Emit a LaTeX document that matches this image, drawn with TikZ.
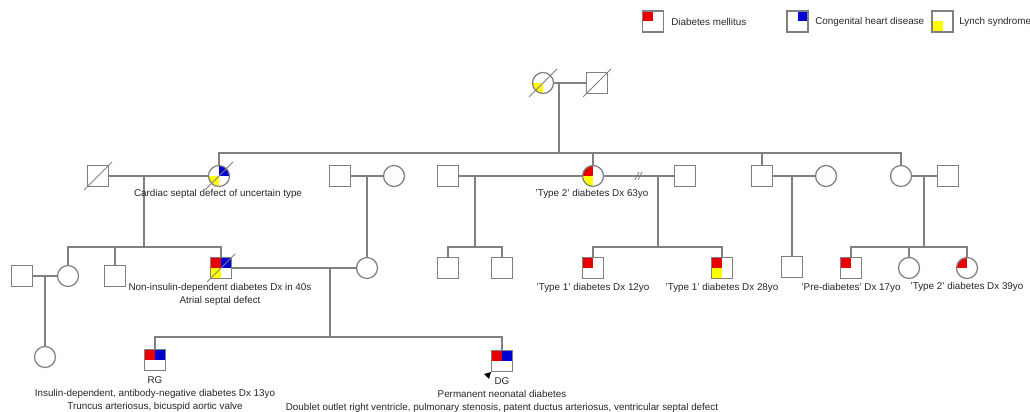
\documentclass[tikz,border=0pt]{standalone}
\usepackage{fontspec}
\setmainfont{Liberation Sans}
\usetikzlibrary{positioning}
\definecolor{lngray}{RGB}{128,128,128}
\definecolor{dmred}{RGB}{232,0,0}
\definecolor{chdblue}{RGB}{0,0,210}
\definecolor{lsyellow}{RGB}{255,255,0}
\tikzset{
  ln/.style={draw=lngray, line width=0.9pt},
  sl/.style={draw=lngray, line width=0.6pt},
  male/.style={rectangle, ln, fill=white, minimum size=0.525cm, inner sep=0pt, outer sep=0pt},
  female/.style={circle, ln, fill=white, minimum size=0.525cm, inner sep=0pt, outer sep=0pt},
  qd/.style n args={4}{path picture={
      \fill[#1] (path picture bounding box.center) rectangle ([xshift=0.5pt,yshift=-0.5pt]path picture bounding box.north west);
      \fill[#2] (path picture bounding box.center) rectangle ([xshift=-0.5pt,yshift=-0.5pt]path picture bounding box.north east);
      \fill[#3] (path picture bounding box.center) rectangle ([xshift=0.5pt,yshift=0.5pt]path picture bounding box.south west);
      \fill[#4] (path picture bounding box.center) rectangle ([xshift=-0.5pt,yshift=0.5pt]path picture bounding box.south east);
  }},
  lbl/.style={font=\fontsize{7}{9.4}\selectfont, text=black!85, align=center, inner sep=0pt},
}
\newcommand{\dcsd}[1]{\draw[sl] (#1.center) ++(-14,14) -- ++(28,-28);}

\begin{document}
\begin{tikzpicture}[x=0.025cm, y=-0.025cm]
\useasboundingbox (0,0) rectangle (1030,412);
% legend
\node[male, qd={dmred}{white}{white}{white}] (lg1) at (653,21.5) {};
\node[lbl, anchor=west] (lt1) at (671,21.5) {Diabetes mellitus};
\node[male, qd={white}{chdblue}{white}{white}] (lg2) at (797.5,21.5) {};
\node[lbl, anchor=west] (lt2) at (815,21.5) {Congenital heart disease};
\node[male, qd={white}{white}{lsyellow}{white}] (lg3) at (942.5,21.5) {};
\node[lbl, anchor=west] (lt3) at (959,21.5) {Lynch syndrome};

% generation I
\node[female, qd={white}{white}{lsyellow}{white}] (t1f) at (543,83) {};
\node[male] (t1m) at (597,83) {};
\dcsd{t1f}
\dcsd{t1m}

% generation II
\node[male] (a1) at (98,176) {};
\node[female, qd={white}{chdblue}{lsyellow}{white}] (a2) at (219,176) {};
\dcsd{a1}
\dcsd{a2}
\node[male] (b1) at (340,176) {};
\node[female] (b2) at (394,176) {};
\node[male] (c0) at (448,176) {};
\node[female, qd={dmred}{white}{lsyellow}{white}] (c1) at (593,176) {};
\node[male] (c2) at (685,176) {};
\node[male] (d1) at (762,176) {};
\node[female] (d2) at (826,176) {};
\node[female] (e1) at (901,176) {};
\node[male] (e2) at (948,176) {};

% generation III
\node[male] (f1) at (22,276) {};
\node[female] (f2) at (68,276) {};
\node[male] (f4) at (115,276) {};
\node[male, qd={dmred}{chdblue}{lsyellow}{white}] (f5) at (221,268) {};
\dcsd{f5}
\node[female] (f6) at (367,268) {};
\node[male] (h1) at (448,268) {};
\node[male] (h2) at (502,268) {};
\node[male, qd={dmred}{white}{white}{white}] (i1) at (593,268) {};
\node[male, qd={dmred}{white}{lsyellow}{white}] (i2) at (722,268) {};
\node[male] (j1) at (792,267) {};
\node[male, qd={dmred}{white}{white}{white}] (k1) at (851,268) {};
\node[female] (k2) at (909,268) {};
\node[female, qd={dmred}{white}{white}{white}] (k3) at (967,268) {};

% generation IV
\node[female] (f3) at (45,357) {};
\node[male, qd={dmred}{chdblue}{white}{white}] (g1) at (155,360) {};
\node[male, qd={dmred}{chdblue}{white}{white}] (g2) at (502,361) {};
\fill[black] (491,372) -- (484,374) -- (489,379) -- cycle;

% couples and descent
\coordinate (m0) at (559,83);
\coordinate (s0) at (559,153);
\draw[ln] (t1f) -- (t1m);
\draw[ln] (m0) -- (s0);
\draw[ln] (a2.north) |- (s0) -| (e1.north);
\draw[ln] (c1.north) -- (c1.north |- s0);
\draw[ln] (d1.north) -- (d1.north |- s0);

\coordinate (m1) at (144,176);
\coordinate (s1) at (144,247);
\draw[ln] (a1) -- (a2);
\draw[ln] (m1) -- (s1);
\draw[ln] (f2.north) |- (s1) -| (f5.north);
\draw[ln] (f4.north) -- (f4.north |- s1);

\coordinate (m2) at (45,276);
\draw[ln] (f1) -- (f2);
\draw[ln] (m2) -- (f3.north);

\coordinate (m3) at (367,176);
\draw[ln] (b1) -- (b2);
\draw[ln] (m3) -- (f6.north);

\coordinate (m4) at (330,268);
\coordinate (s4) at (330,337);
\draw[ln] (f5) -- (f6);
\draw[ln] (m4) -- (s4);
\draw[ln] (g1.north) |- (s4) -| (g2.north);

\coordinate (m5) at (475,176);
\coordinate (s5) at (475,247);
\draw[ln] (c0) -- (c1);
\draw[ln] (m5) -- (s5);
\draw[ln] (h1.north) |- (s5) -| (h2.north);

\coordinate (m6) at (658,176);
\coordinate (s6) at (658,247);
\coordinate (dv) at (638,176);
\draw[ln] (c1) -- (c2);
\draw[sl] (dv) ++(-3,4) -- ++(4,-8);
\draw[sl] (dv) ++(0,4) -- ++(4,-8);
\draw[ln] (m6) -- (s6);
\draw[ln] (i1.north) |- (s6) -| (i2.north);

\coordinate (m7) at (792,176);
\draw[ln] (d1) -- (d2);
\draw[ln] (m7) -- (j1.north);

\coordinate (m8) at (924,176);
\coordinate (s8) at (924,247);
\draw[ln] (e1) -- (e2);
\draw[ln] (m8) -- (s8);
\draw[ln] (k1.north) |- (s8) -| (k3.north);
\draw[ln] (k2.north) -- (k2.north |- s8);

% labels
\node[lbl] (la2) at (218,194) {Cardiac septal defect of uncertain type};
\node[lbl] (lc1) at (592,194) {'Type 2' diabetes Dx 63yo};
\node[lbl, anchor=north] (lf5) at (220,283) {Non-insulin-dependent diabetes Dx in 40s\\Atrial septal defect};
\node[lbl] (li1) at (593,288) {'Type 1' diabetes Dx 12yo};
\node[lbl] (li2) at (722,288) {'Type 1' diabetes Dx 28yo};
\node[lbl] (lk1) at (851,288) {'Pre-diabetes' Dx 17yo};
\node[lbl] (lk3) at (967,287) {'Type 2' diabetes Dx 39yo};
\node[lbl, anchor=north] (lg1b) at (155,376) {RG\\Insulin-dependent, antibody-negative diabetes Dx 13yo\\Truncus arteriosus, bicuspid aortic valve};
\node[lbl, anchor=north] (lg2b) at (502,377) {DG\\Permanent neonatal diabetes\\Doublet outlet right ventricle, pulmonary stenosis, patent ductus arteriosus, ventricular septal defect};
\end{tikzpicture}
\end{document}
